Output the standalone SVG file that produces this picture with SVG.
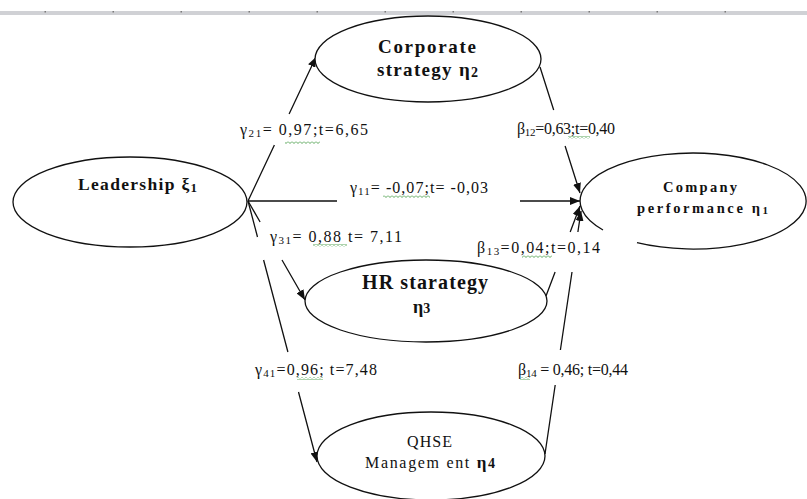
<svg xmlns="http://www.w3.org/2000/svg" width="807" height="499" viewBox="0 0 807 499">
<style>
.node{fill:#fff;stroke:#111;stroke-width:1.3}
.conn{fill:none;stroke:#111;stroke-width:1.3}
.t{font-family:"Liberation Serif","Times New Roman",serif;fill:#111}
.b{font-weight:bold}
.lab{font-size:16px}
.sub{font-size:11px}
.sq{fill:url(#squig)}
</style>
<defs>
<marker id="arr" markerUnits="userSpaceOnUse" markerWidth="11" markerHeight="8" refX="10" refY="4" orient="auto">
<path d="M0,0 L10,4 L0,8 z" fill="#111"/>
</marker>
<pattern id="squig" width="4" height="3" patternUnits="userSpaceOnUse">
<path d="M0,0.5 L2,2.5 L4,0.5" stroke="#4a9e4a" stroke-width="0.9" fill="none"/>
</pattern>
</defs>
<rect width="807" height="499" fill="#fff"/>
<g id="ruler">
<rect x="0" y="11" width="807" height="4" fill="#d0d1d5"/>
<g fill="#7a7a7a">
<rect x="44.5" y="11" width="1.5" height="1.5"/><rect x="112.5" y="11" width="1.5" height="1.5"/><rect x="180.5" y="11" width="1.5" height="1.5"/><rect x="248.5" y="11" width="1.5" height="1.5"/><rect x="316.5" y="11" width="1.5" height="1.5"/><rect x="384.5" y="11" width="1.5" height="1.5"/><rect x="452.5" y="11" width="1.5" height="1.5"/><rect x="520.5" y="11" width="1.5" height="1.5"/><rect x="588.5" y="11" width="1.5" height="1.5"/><rect x="656.5" y="11" width="1.5" height="1.5"/><rect x="724.5" y="11" width="1.5" height="1.5"/>
</g>
</g>
<g id="connectors">
<path class="conn" d="M248,201 L274.4,145 M289.1,114 L316,57" marker-end="url(#arr)"/>
<path class="conn" d="M248,201 L337,201 M520,201 L580,201" marker-end="url(#arr)"/>
<path class="conn" d="M248,201 L260.1,222 M282,260 L305,300" marker-end="url(#arr)"/>
<path class="conn" d="M248,201 L257.5,237 M263.6,260 L287.9,352 M298.5,392 L317,462" marker-end="url(#arr)"/>
<path class="conn" d="M540,67 L553.7,110 M565.1,146 L580,193" marker-end="url(#arr)"/>
<path class="conn" d="M546,296 L555.1,272 M570.2,232 L580,206" marker-end="url(#arr)"/>
<path class="conn" d="M545,454 L555.2,385 M560.4,350 L572,272 M577.9,232 L581,211" marker-end="url(#arr)"/>
<text class="t lab" x="240" y="135" textLength="128">γ<tspan class="sub" dy="2">21</tspan><tspan dy="-2">= 0,97;t=6,65</tspan></text>
<text class="t lab" x="517" y="134" textLength="98">β<tspan class="sub" dy="2">12</tspan><tspan dy="-2">=0,63;t=0,40</tspan></text>
<text class="t lab" x="350" y="193" textLength="138">γ<tspan class="sub" dy="2">11</tspan><tspan dy="-2">= -0,07;t= -0,03</tspan></text>
<text class="t lab" x="270" y="242" textLength="132">γ<tspan class="sub" dy="2">31</tspan><tspan dy="-2">= 0,88 t= 7,11</tspan></text>
<text class="t lab" x="477" y="253" textLength="123">β<tspan class="sub" dy="2">13</tspan><tspan dy="-2">=0,04;t=0,14</tspan></text>
<text class="t lab" x="255" y="375" textLength="122">γ<tspan class="sub" dy="2">41</tspan><tspan dy="-2">=0,96; t=7,48</tspan></text>
<text class="t lab" x="518" y="375" textLength="110">β<tspan class="sub" dy="2">14</tspan><tspan dy="-2"> = 0,46; t=0,44</tspan></text>
<rect class="sq" x="285" y="141" width="35" height="3"/>
<rect class="sq" x="568" y="136" width="22" height="3"/>
<rect class="sq" x="383" y="195" width="47" height="3"/>
<rect class="sq" x="313" y="244" width="34" height="3"/>
<rect class="sq" x="522" y="255" width="30" height="3"/>
<rect class="sq" x="297" y="377" width="26" height="3"/>
<rect class="sq" x="520" y="377" width="10" height="3"/>
</g>
<g id="leadership">
<ellipse class="node" cx="130" cy="202" rx="117" ry="45"/>
<text class="t b" x="78" y="190" font-size="17.5" textLength="119">Leadership ξ<tspan font-size="13" dy="2">1</tspan></text>
</g>
<g id="corporate">
<ellipse class="node" cx="428" cy="59" rx="113" ry="43"/>
<text class="t b" x="378" y="53" font-size="19" textLength="98">Corporate</text>
<text class="t b" x="377" y="76" font-size="19" textLength="101">strategy η<tspan font-size="14" dy="1">2</tspan></text>
</g>
<g id="company">
<path class="node" d="M603,230 A113,48 0 1 1 637,242.7"/>
<text class="t b" x="663" y="192" font-size="14.5" textLength="74">Company</text>
<text class="t b" x="637" y="213" font-size="14.5" textLength="131">performance η<tspan font-size="11" dy="1">1</tspan></text>
</g>
<g id="hr">
<ellipse class="node" cx="426" cy="301" rx="121" ry="41"/>
<text class="t b" x="362" y="289" font-size="20" textLength="126">HR starategy</text>
<text class="t b" x="413" y="313" font-size="18">η<tspan font-size="14">3</tspan></text>
</g>
<g id="qhse">
<ellipse class="node" cx="431" cy="456" rx="114" ry="44"/>
<text class="t" x="407" y="447" font-size="16" textLength="45">QHSE</text>
<text class="t" x="365" y="468" font-size="16" textLength="130">Managem ent <tspan class="b" font-size="17">η</tspan><tspan class="b" font-size="14">4</tspan></text>
</g>
</svg>
